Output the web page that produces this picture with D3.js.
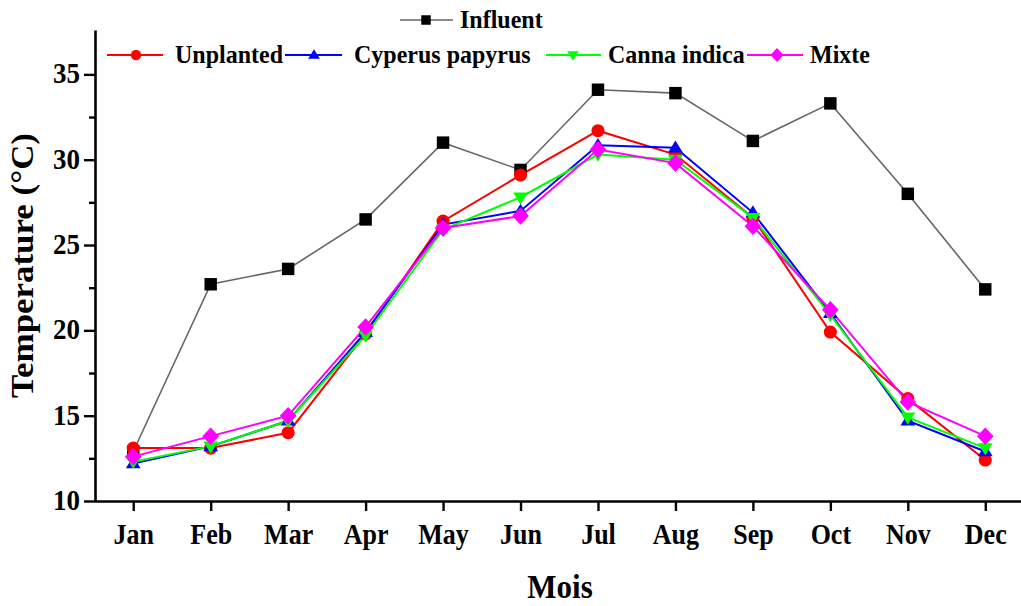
<!DOCTYPE html>
<html>
<head>
<meta charset="utf-8">
<script src="https://cdn.jsdelivr.net/npm/d3@7"></script>
<style>
  html, body { margin: 0; padding: 0; background: #fff; }
  svg { display: block; }
  text { font-family: "Liberation Serif", "Times New Roman", serif; font-weight: bold; fill: #000; }
</style>
</head>
<body>
<svg id="chart" width="1021" height="606"></svg>
<script>
const months = ["Jan","Feb","Mar","Apr","May","Jun","Jul","Aug","Sep","Oct","Nov","Dec"];
const influent  = [12.9, 22.7, 23.6, 26.5, 31.0, 29.4, 34.1, 33.9, 31.1, 33.3, 28.0, 22.4];
const unplanted = [13.1, 13.1, 14.0, 19.8, 26.4, 29.1, 31.7, 30.3, 26.6, 19.9, 16.0, 12.4];
const cyperus   = [12.2, 13.2, 14.7, 19.9, 26.2, 27.0, 30.85, 30.7, 26.9, 21.0, 14.7, 12.9];
const canna     = [12.3, 13.2, 14.7, 19.7, 25.9, 27.8, 30.3, 30.0, 26.6, 20.9, 14.9, 13.1];
const mixte     = [12.6, 13.8, 15.0, 20.2, 26.0, 26.7, 30.6, 29.8, 26.1, 21.2, 15.8, 13.8];
const majorTicks = [10, 15, 20, 25, 30, 35];
const minorTicks = [12.5, 17.5, 22.5, 27.5, 32.5];
const seriesNames = ["Influent", "Unplanted", "Cyperus papyrus", "Canna indica", "Mixte"];

const svg = d3.select("#chart");

const x = d3.scaleLinear().domain([-0.5, 11.5]).range([94.5, 1024]);
const y = d3.scaleLinear().domain([10, 37.6]).range([501, 30]);

// custom symbols
const symDiamond = { draw(ctx, size) { const h = Math.sqrt(size) * 0.62, w = h * 0.95;
  ctx.moveTo(0, -h); ctx.lineTo(w, 0); ctx.lineTo(0, h); ctx.lineTo(-w, 0); ctx.closePath(); } };
const symTriUp = { draw(ctx, size) { const s = Math.sqrt(size); const h = s * 0.9, w = s * 0.55;
  ctx.moveTo(0, -h * 0.6); ctx.lineTo(w, h * 0.4); ctx.lineTo(-w, h * 0.4); ctx.closePath(); } };
const symTriDown = { draw(ctx, size) { const s = Math.sqrt(size); const h = s * 0.9, w = s * 0.55;
  ctx.moveTo(0, h * 0.6); ctx.lineTo(w, -h * 0.4); ctx.lineTo(-w, -h * 0.4); ctx.closePath(); } };

const series = [
  { name: seriesNames[0], data: influent,  line: "#666", marker: "#000", width: 1.6, sym: d3.symbolSquare, size: 155, lsize: 90 },
  { name: seriesNames[1], data: unplanted, line: "#ff0000", marker: "#ff0000", width: 2, sym: d3.symbolCircle, size: 135, lsize: 85 },
  { name: seriesNames[2], data: cyperus,   line: "#0000ff", marker: "#0000ff", width: 2, sym: symTriUp, size: 180, lsize: 115 },
  { name: seriesNames[3], data: canna,     line: "#00ff00", marker: "#00ff00", width: 2, sym: symTriDown, size: 180, lsize: 115 },
  { name: seriesNames[4], data: mixte,     line: "#ff00ff", marker: "#ff00ff", width: 2, sym: symDiamond, size: 200, lsize: 125 }
];

// axes
const xAxis = d3.axisBottom(x).tickValues(d3.range(12)).tickFormat(i => months[i]).tickSize(10).tickSizeOuter(0);
const gx = svg.append("g").attr("transform", "translate(0,501)").call(xAxis);
gx.selectAll("text").attr("y", 0).attr("dy", 0)
  .attr("transform", "translate(0,43) scale(1,1.14)")
  .style("font-size", "26px");

const yAxis = d3.axisLeft(y).tickValues(majorTicks).tickSize(11).tickSizeOuter(0).tickFormat(d3.format("d"));
const gy = svg.append("g").attr("transform", "translate(95,0)").call(yAxis);
gy.selectAll("text").attr("x", 0).attr("dy", 0)
  .attr("transform", "translate(-15,8.5) scale(1,1.12)")
  .style("font-size", "27px");
const gyMinor = svg.append("g").attr("transform", "translate(95,0)")
  .call(d3.axisLeft(y).tickValues(minorTicks).tickSize(6).tickSizeOuter(0).tickFormat(""));
gyMinor.select(".domain").remove();

[gx, gy, gyMinor].forEach(g => {
  g.selectAll(".domain").attr("stroke", "#000").attr("stroke-width", 2.6);
  g.selectAll(".tick line").attr("stroke", "#000").attr("stroke-width", 2.4);
  g.attr("font-family", null).attr("font-size", null);
});

// lines & markers
const lineGen = d3.line().x((d, i) => x(i)).y(d => y(d));
series.forEach(s => {
  svg.append("path").datum(s.data)
    .attr("d", lineGen).attr("fill", "none")
    .attr("stroke", s.line).attr("stroke-width", s.width);
});
series.forEach(s => {
  svg.append("g").selectAll("path").data(s.data).join("path")
    .attr("transform", (d, i) => `translate(${x(i)},${y(d)})`)
    .attr("d", d3.symbol(s.sym, s.size)())
    .attr("fill", s.marker);
});

// axis titles
svg.append("text")
  .attr("transform", "translate(33,265.5) rotate(-90)")
  .attr("text-anchor", "middle")
  .attr("textLength", 265).attr("lengthAdjust", "spacingAndGlyphs")
  .style("font-size", "31px")
  .text("Temperature (\u00B0C)");

svg.append("text")
  .attr("transform", "translate(560,598) scale(1,1.12)")
  .attr("text-anchor", "middle")
  .style("font-size", "31px")
  .text("Mois");

// legend
const legendItems = [
  { s: series[0], x1: 400, x2: 453, mx: 426, ty: 20, tx: 460 },
  { s: series[1], x1: 107, x2: 163, mx: 136, ty: 55, tx: 175 },
  { s: series[2], x1: 285, x2: 342, mx: 314, ty: 55, tx: 354 },
  { s: series[3], x1: 546, x2: 601, mx: 573, ty: 55, tx: 608 },
  { s: series[4], x1: 747, x2: 803, mx: 777, ty: 55, tx: 810 }
];
const lg = svg.append("g");
legendItems.forEach(it => {
  lg.append("line").attr("x1", it.x1).attr("x2", it.x2).attr("y1", it.ty).attr("y2", it.ty)
    .attr("stroke", it.s.line).attr("stroke-width", it.s.width);
  lg.append("path").attr("transform", `translate(${it.mx},${it.ty})`)
    .attr("d", d3.symbol(it.s.sym, it.s.lsize)()).attr("fill", it.s.marker);
  lg.append("text").attr("transform", `translate(${it.tx},${it.ty + 7.5}) scale(1,1.08)`)
    .style("font-size", "24px").text(it.s.name);
});
</script>
</body>
</html>
